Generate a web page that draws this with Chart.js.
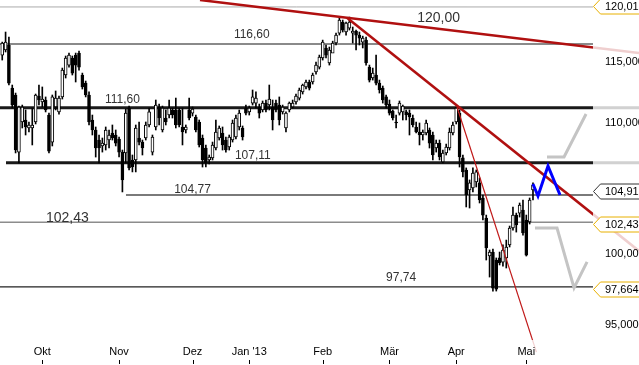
<!DOCTYPE html>
<html><head><meta charset="utf-8">
<script src="https://cdn.jsdelivr.net/npm/chart.js@4/dist/chart.umd.min.js"></script>
<style>html,body{margin:0;padding:0;background:#fff;overflow:hidden}canvas{display:block}</style>
</head><body>
<canvas id="c" width="639" height="365"></canvas>
<script>
// ---- data (trading-day index 0 = 13 Sep 2012) ----
const opens = [115.82,116.25,116.67,113.07,112.50,107.92,110.31,110.47,109.83,109.83,110.31,112.42,111.93,112.09,110.87,108.71,111.52,111.12,112.34,114.15,114.98,115.57,115.82,115.99,114.15,113.48,112.50,110.47,109.67,108.87,108.40,108.48,108.87,109.43,109.27,108.95,107.92,107.85,111.44,107.30,107.30,109.03,108.71,109.03,110.07,107.92,109.91,111.52,109.67,110.63,110.87,111.28,111.28,111.28,109.91,109.67,111.28,111.03,110.71,110.31,109.03,108.24,107.30,107.46,108.24,109.03,109.43,108.87,108.32,108.87,109.11,109.91,109.83,111.44,111.12,111.84,111.84,111.52,111.28,111.84,111.68,111.52,111.84,111.68,111.12,109.83,111.28,111.52,111.93,112.25,112.75,113.16,113.57,113.57,114.40,114.81,115.57,116.42,115.15,115.99,116.84,117.69,118.64,117.78,118.12,117.69,117.86,117.52,116.92,117.09,114.81,113.90,114.15,113.48,113.07,112.34,111.76,111.20,110.31,111.03,111.12,111.12,111.03,110.63,109.91,109.51,109.27,109.43,109.67,109.27,108.24,108.63,107.15,107.85,108.24,109.43,110.31,111.03,107.46,106.52,104.98,105.14,105.59,105.52,104.37,102.86,100.05,100.34,99.76,99.91,99.61,99.91,100.86,102.11,103.08,103.23,103.46,102.71,102.56,104.98];
const highs = [116.92,117.78,117.35,113.32,112.66,111.60,111.68,111.28,110.31,111.44,112.58,113.32,113.16,112.34,111.03,112.50,112.83,112.42,114.73,115.74,115.99,115.74,115.99,116.16,114.31,113.65,112.75,110.87,109.91,109.27,109.03,109.91,109.67,110.07,109.67,109.11,108.08,111.36,111.60,107.69,110.07,110.31,108.87,110.31,111.44,109.27,112.09,111.76,111.60,111.28,112.09,111.44,112.25,111.44,111.44,110.07,112.25,111.52,110.87,110.47,109.27,108.48,107.69,108.71,110.47,109.99,109.91,109.11,109.27,110.47,110.87,111.28,109.99,111.68,111.60,112.91,112.75,111.76,112.01,112.09,113.32,112.09,112.09,112.34,111.68,111.12,111.93,112.09,112.58,113.07,113.40,113.73,113.73,114.31,115.23,115.82,117.09,116.67,116.50,117.00,117.69,118.98,118.81,118.64,119.07,118.21,117.95,117.78,117.43,117.35,114.98,114.73,115.82,113.73,113.24,112.50,112.09,111.28,110.87,112.01,111.68,111.28,111.28,110.87,110.31,110.23,109.67,110.47,109.83,109.51,108.87,108.87,108.08,108.55,109.83,110.31,111.52,111.28,107.69,106.68,105.75,106.68,106.52,105.91,104.60,103.08,100.49,100.56,99.91,100.34,100.86,101.22,102.26,103.69,103.23,103.99,104.22,103.08,104.37,105.52];
const lows = [115.40,116.08,113.32,111.44,107.85,107.07,109.83,109.27,109.51,108.48,110.15,111.68,111.52,111.12,107.85,108.40,111.28,110.95,112.17,113.90,114.81,114.15,113.57,114.56,112.99,112.34,110.07,109.27,107.53,107.07,107.92,108.08,108.24,108.87,108.40,107.53,104.83,107.07,106.52,106.37,106.37,108.48,107.69,108.87,109.91,107.69,109.67,110.07,109.51,110.07,110.63,110.63,109.83,109.91,108.48,109.43,110.47,110.79,109.51,108.32,106.75,106.75,106.99,107.30,108.08,108.87,108.08,107.92,108.08,108.71,108.95,109.67,108.87,110.87,110.87,111.68,111.44,110.63,111.12,111.12,111.28,109.67,111.12,110.07,110.95,109.51,111.12,111.44,111.76,112.09,112.58,112.99,112.91,113.40,114.23,114.65,115.40,115.57,114.98,116.25,116.67,117.52,117.78,117.52,117.95,116.84,116.25,116.67,116.42,114.98,113.57,113.73,113.32,112.66,111.84,111.44,110.87,110.47,109.83,110.87,110.47,110.47,109.27,109.91,109.43,108.48,108.87,109.27,108.24,107.30,107.92,107.30,107.07,107.69,108.08,109.27,110.15,106.75,105.98,103.69,103.61,104.83,105.21,103.99,102.71,99.76,98.53,97.53,97.53,99.40,99.32,99.18,100.71,101.96,101.81,102.93,101.59,100.05,102.41,104.22];
const closes = [116.84,116.92,113.48,111.68,108.08,111.52,111.52,109.91,110.07,110.07,112.50,112.09,112.17,111.28,108.00,112.34,112.25,112.25,114.56,115.57,115.82,114.31,114.98,114.81,113.16,112.50,110.31,109.67,108.24,108.24,108.63,109.67,109.27,109.03,108.63,107.92,105.75,111.03,106.68,106.75,109.83,108.71,108.24,110.07,111.12,109.11,111.68,110.63,111.44,110.31,111.44,110.87,110.07,110.07,109.51,109.91,110.63,111.36,109.67,108.48,107.30,107.07,107.53,108.48,109.51,109.83,108.48,108.08,109.11,110.23,110.63,111.03,109.11,111.03,111.44,112.34,112.25,111.03,111.84,111.28,112.17,110.47,111.28,110.47,111.52,111.03,111.84,111.84,112.42,112.91,113.32,113.57,113.07,114.15,114.98,115.65,116.92,115.82,116.25,116.84,117.52,118.81,117.95,118.55,118.64,117.86,117.52,117.26,117.26,115.15,113.73,114.31,113.48,112.91,112.09,111.68,111.03,110.63,110.23,111.84,111.60,110.87,110.71,110.07,109.51,109.27,109.51,110.23,108.63,107.69,108.63,107.53,107.85,108.32,109.51,110.07,111.44,107.53,106.37,104.60,105.52,106.29,106.37,104.22,103.08,100.64,100.34,97.74,97.67,99.55,100.49,100.71,102.11,103.08,102.34,103.84,101.74,100.12,104.22,105.36];

// month ticks (trading-day index of first trading day of month)
const monthTickIndex = [12, 35, 57, 74, 96, 116, 136, 157];
const monthLabels = ['Okt', 'Nov', 'Dez', "Jan '13", 'Feb', 'Mär', 'Apr', 'Mai'];
// y-axis tick labels
const yTickValues = [115, 110, 100, 95];
const yTickLabels = ['115,000', '110,000', '100,000', '95,000'];
// price tags on axis
const tagValues = [120.01, 104.91, 102.43, 97.664];
const tagLabels = ['120,010', '104,910', '102,430', '97,664'];

// horizontal levels
const levelValues = [119.95, 116.76, 111.46, 107.09, 104.60, 102.54, 97.82];
const levelStart = [-0.67, -0.67, -0.67, 1.13, 37.07, -0.67, -0.67];
const levelEnd = [176.98, 176.98, 190.76, 190.76, 176.98, 176.98, 176.98];

// trend lines [index, value]
const trendLongX = [59.25, 190.76], trendLongY = [120.56, 115.99];
const trendSteepX = [103.28, 190.76], trendSteepY = [119.02, 100.42];
const trendThinX = [136.24, 160.03], trendThinY = [111.52, 93.29];
// projections
const blueX = [159.0, 160.5, 163.5, 167.1], blueY = [105.44, 104.52, 106.83, 104.60];
const greyUpX = [163.2, 168.3, 174.9], greyUpY = [107.53, 107.53, 110.95];
const greyLoX = [159.6, 166.2, 171.3, 175.2], greyLoY = [102.11, 102.11, 97.75, 99.62];

// chart annotations
const noteTexts = ['120,00', '116,60', '111,60', '107,11', '104,77', '102,43', '97,74'];
const noteX = [124.3, 69.4, 30.8, 69.7, 51.5, 13.1, 115.0];
const noteY = [118.67, 117.31, 111.86, 107.38, 104.78, 102.58, 98.22];

// ---- styles ----
const noteSizes = [14, 12, 12, 12, 12, 14, 12];
const levelColors = ['#aaaaaa', '#8a8a8a', '#1a1a1a', '#1a1a1a', '#7a7a7a', '#8c8c8c', '#222222'];
const levelWidths = [1, 2, 3, 3, 2, 1.3, 1.3];
const tagColors = ['#e8b000', '#333333', '#e8b000', '#e8b000'];

const idx = opens.map((_, i) => i);
const toXY = (xs, ys) => xs.map((x, i) => ({x, y: ys[i]}));

const datasets = [];
levelValues.forEach((v, k) => {
  datasets.push({type: 'line', data: [{x: levelStart[k], y: v}, {x: levelEnd[k], y: v}],
    borderColor: levelColors[k], borderWidth: levelWidths[k], pointRadius: 0, clip: false, order: 50});
});
datasets.push({type: 'bar', data: idx.map(i => ({x: i, y: [lows[i], highs[i]]})),
  backgroundColor: '#000', borderWidth: 0, grouped: false, barThickness: 1, maxBarThickness: 1, order: 40});
datasets.push({type: 'bar', data: idx.map(i => ({x: i, y: [opens[i], closes[i]]})),
  backgroundColor: idx.map(i => closes[i] >= opens[i] ? '#ffffff' : '#000000'),
  borderColor: '#000', borderWidth: 1, borderSkipped: false, minBarLength: 1,
  grouped: false, barThickness: 3, maxBarThickness: 3, order: 30});
datasets.push({type: 'line', data: toXY(trendLongX, trendLongY), borderColor: '#b01010', borderWidth: 2.5, pointRadius: 0, clip: false, order: 20});
datasets.push({type: 'line', data: toXY(trendSteepX, trendSteepY), borderColor: '#b01010', borderWidth: 2.5, pointRadius: 0, clip: false, order: 20});
datasets.push({type: 'line', data: toXY(trendThinX, trendThinY), borderColor: '#c01818', borderWidth: 1.2, pointRadius: 0, clip: false, order: 20});
datasets.push({type: 'line', data: toXY(greyUpX, greyUpY), borderColor: '#c4c4c4', borderWidth: 3, pointRadius: 0, order: 10});
datasets.push({type: 'line', data: toXY(greyLoX, greyLoY), borderColor: '#c4c4c4', borderWidth: 3, pointRadius: 0, order: 10});
datasets.push({type: 'line', data: toXY(blueX, blueY), borderColor: '#0000ff', borderWidth: 3, pointRadius: 0, order: 5});

const FONT = 'Arial, "Liberation Sans", sans-serif';
Chart.defaults.font.family = FONT;

const deco = {
  id: 'deco',
  afterDatasetsDraw(chart) {
    const {ctx, chartArea} = chart;
    const xs = chart.scales.x, ys = chart.scales.y;
    ctx.save();
    ctx.fillStyle = '#333';
    ctx.textAlign = 'left';
    ctx.textBaseline = 'alphabetic';
    noteTexts.forEach((t, k) => {
      ctx.font = noteSizes[k] + 'px ' + FONT;
      ctx.fillText(t, xs.getPixelForValue(noteX[k]), ys.getPixelForValue(noteY[k]));
    });
    ctx.fillStyle = 'rgba(255,255,255,0.8)';
    ctx.fillRect(chartArea.right, 0, chart.width - chartArea.right, chart.height);
    ctx.fillRect(0, chartArea.bottom, chartArea.right, chart.height - chartArea.bottom);
    ctx.restore();
  },
  afterDraw(chart) {
    const {ctx, chartArea} = chart;
    const xs = chart.scales.x, ys = chart.scales.y;
    ctx.save();
    ctx.strokeStyle = '#000'; ctx.lineWidth = 1;
    monthTickIndex.forEach(v => {
      const x = Math.round(xs.getPixelForValue(v)) + 0.5;
      ctx.beginPath(); ctx.moveTo(x, 360); ctx.lineTo(x, 364); ctx.stroke();
    });
    tagValues.forEach((v, k) => {
      const y = Math.round(ys.getPixelForValue(v)) + 0.5;
      const x0 = chartArea.right + 0.5;
      ctx.beginPath();
      ctx.moveTo(chart.width + 5, y - 7.5);
      ctx.lineTo(x0 + 7, y - 7.5);
      ctx.lineTo(x0, y);
      ctx.lineTo(x0 + 7, y + 7.5);
      ctx.lineTo(chart.width + 5, y + 7.5);
      ctx.fillStyle = '#fff'; ctx.fill();
      ctx.strokeStyle = tagColors[k]; ctx.lineWidth = 1; ctx.stroke();
      ctx.fillStyle = '#000';
      ctx.font = '11px ' + FONT;
      ctx.textAlign = 'left'; ctx.textBaseline = 'middle';
      ctx.fillText(tagLabels[k], chartArea.right + 12, y);
    });
    ctx.restore();
  }
};

new Chart(document.getElementById('c'), {
  type: 'bar',
  data: {datasets},
  options: {
    responsive: false, animation: false, devicePixelRatio: 1,
    layout: {padding: 0},
    plugins: {legend: {display: false}, tooltip: {enabled: false}},
    scales: {
      x: {
        type: 'linear', min: -0.67, max: 176.98, offset: false,
        grid: {display: false, drawTicks: false}, border: {display: false},
        ticks: {z: 1, color: '#000', font: {size: 11}, padding: 5, maxRotation: 0, autoSkip: false,
          callback: (val, i) => monthLabels[i]},
        afterBuildTicks: s => { s.ticks = monthTickIndex.map(v => ({value: v})); },
        afterFit: s => { s.height = 25; s.paddingLeft = 0; s.paddingRight = 0; }
      },
      y: {
        type: 'logarithmic', position: 'right', min: 94.114, max: 120.56, bounds: 'data',
        grid: {display: false, drawTicks: false}, border: {display: false},
        ticks: {z: 1, color: '#000', font: {size: 11}, padding: 12, labelOffset: -2.5,
          callback: (val, i) => yTickLabels[i]},
        afterBuildTicks: s => { s.ticks = yTickValues.map(v => ({value: v})); s.min = 94.114; s.max = 120.56; },
        afterFit: s => { s.width = 46; s.paddingTop = 0; s.paddingBottom = 0; }
      }
    }
  },
  plugins: [deco]
});
</script>
</body></html>
